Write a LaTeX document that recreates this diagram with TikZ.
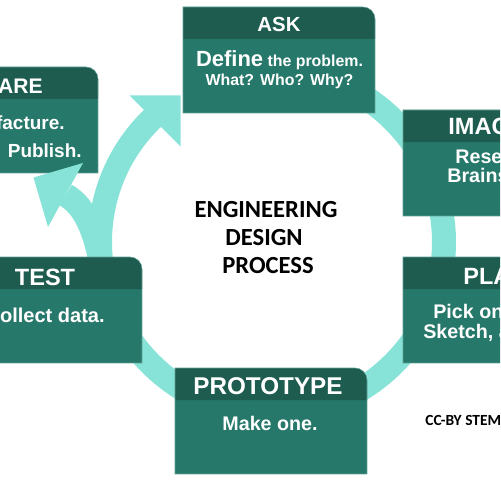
\documentclass[tikz,border=0pt]{standalone}
\usepackage{fontspec}
\setmainfont{Liberation Sans}
\newfontfamily\calib{Carlito}
\definecolor{hdr}{HTML}{1E5C50}
\definecolor{bdy}{HTML}{26786A}
\definecolor{ringc}{HTML}{87E3D8}
\definecolor{edgec}{HTML}{5E9E92}
\tikzset{
  ttl/.style={text=white, font=\bfseries\fontsize{#1}{#1}\selectfont, inner sep=0pt, anchor=base},
  ttl/.default=13.4,
  bdt/.style={text=white, font=\bfseries\fontsize{#1}{#1}\selectfont, inner sep=0pt, anchor=base},
  bdt/.default=11.2,
  ctr/.style={text=black, font=\calib\bfseries\fontsize{#1}{#1}\selectfont, inner sep=0pt, anchor=base},
  ctr/.default=14,
  ringline/.style={draw=ringc, line width=0.48cm},
  arrhead/.style={fill=ringc},
  boxedge/.style={draw=edgec, line width=0.3pt},
}
\newcommand\edpbox[2]{%
  \fill[bdy] (#1,#2+32) rectangle (#1+192,#2+106);
  \fill[hdr] (#1,#2+32) -- (#1,#2) -- (#1+180,#2) arc[start angle=-90,end angle=0,radius=12] -- (#1+192,#2+32) -- cycle;
  \draw[boxedge] (#1,#2+106) -- (#1,#2) -- (#1+180,#2) arc[start angle=-90,end angle=0,radius=12] -- (#1+192,#2+106) -- cycle;
}
\begin{document}
\begin{tikzpicture}[x=0.02cm, y=-0.02cm]
\useasboundingbox (0,0) rectangle (500,500);
\clip (0,0) rectangle (500,500);
% ring
\draw[ringline] (272,242) ++(-132:172) arc[start angle=-132, end angle=-464, radius=172];
\draw[ringline] (102.6,271.9) .. controls (96.6,237.6) and (87.4,207) .. (65.5,195);
\fill[arrhead] (129.5,95.5) -- (180.5,95.5) -- (180.5,146.5) -- cycle;
% boxes
\edpbox{183}{7}
\edpbox{403}{110}
\edpbox{403}{257}
\edpbox{175}{368}
\edpbox{-50}{257}
\edpbox{-94}{67}
\fill[arrhead] (83,163) -- (33.5,177.5) -- (48,227) -- cycle;
% ASK
\node[ttl=11.6] (askT) at (279,32) {ASK};
\node[bdt] (askB1) at (279.5,67) {\fontsize{12.5}{14}\selectfont Define\fontsize{9.05}{11}\selectfont{} the problem.};
\node[bdt=9.05] (askB2) at (279.5,86) {What? Who? Why?};
% IMAGINE
\node[ttl, anchor=base west] (imT) at (448,134) {IMAG};
\node[bdt, anchor=base west] (imB1) at (455,163) {Rese};
\node[bdt, anchor=base west] (imB2) at (447,182) {Brains};
% PLAN
\node[ttl, anchor=base west] (plT) at (463,284) {PLA};
\node[bdt, anchor=base west] (plB1) at (433,318) {Pick on};
\node[bdt, anchor=base west] (plB2) at (423,338) {Sketch, a};
% PROTOTYPE
\node[ttl=13.8] (prT) at (268,394) {PROTOTYPE};
\node[bdt] (prB) at (270,430.5) {Make one.};
% TEST
\node[ttl] (teT) at (45,285) {TEST};
\node[bdt=11.4, anchor=base east] (teB) at (105,322) {ollect data.};
% SHARE
\node[ttl=12, anchor=base east] (shT) at (43,93) {ARE};
\node[bdt=10.8, anchor=base east] (shB1) at (65,130) {facture.};
\node[bdt=10.8, anchor=base east] (shB2) at (82,157) {. Publish.};
% centre
\node[ctr] (c1) at (266,217) {ENGINEERING};
\node[ctr] (c2) at (264,245) {DESIGN};
\node[ctr] (c3) at (268,273) {PROCESS};
\node[ctr=8.8, anchor=base west] (cc) at (425,425) {CC-BY STEM};
\end{tikzpicture}
\end{document}
